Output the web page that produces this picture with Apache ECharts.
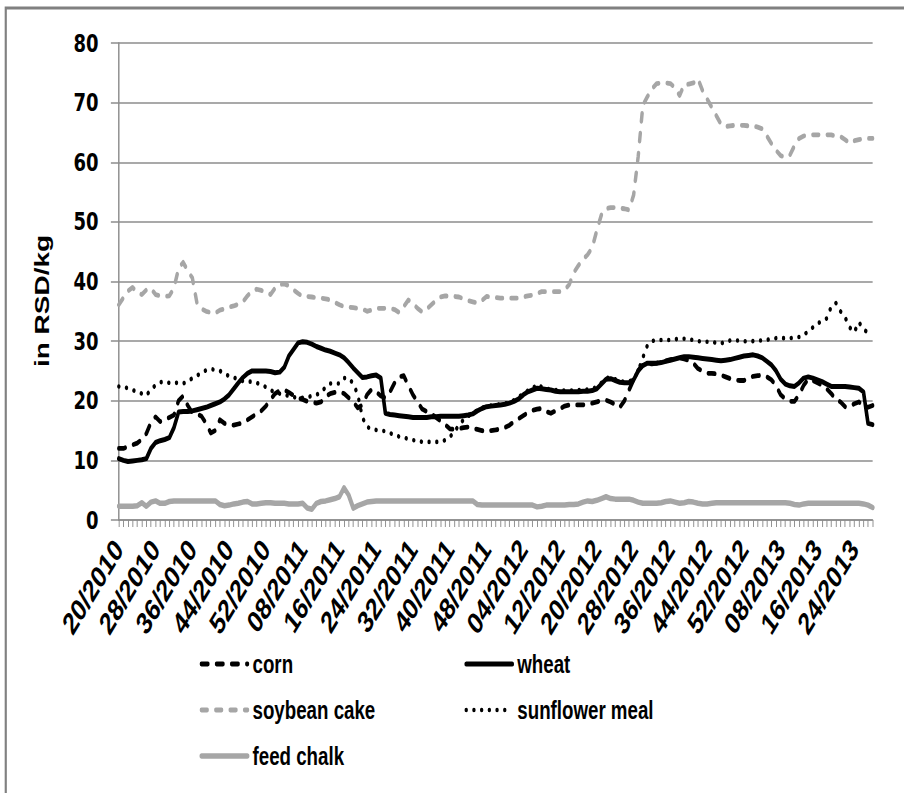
<!DOCTYPE html>
<html>
<head>
<meta charset="utf-8">
<script src="https://cdn.jsdelivr.net/npm/echarts@6/dist/echarts.min.js"></script>
<style>
  html, body { margin: 0; padding: 0; background: #fff; overflow: hidden; }
  #frame { width: 904px; height: 793px; overflow: hidden; position: relative; }
  /* the chart is laid out wide and condensed horizontally, like the printed figure */
  #chart { width: 1256px; height: 793px; transform: scaleX(0.72); transform-origin: 0 0; position: absolute; left: 0; top: 0; }
</style>
</head>
<body>
<div id="frame"><div id="chart"></div></div>
<script>
// Weekly feed component prices, week 20/2010 to week 28/2013 (RSD/kg)
const startWeek = 20, startYear = 2010, endWeek = 28, endYear = 2013;
const weeks = [];
for (let y = startYear, w = startWeek; y < endYear || (y === endYear && w <= endWeek); ) {
  weeks.push((w < 10 ? '0' + w : '' + w) + '/' + y);
  w++;
  if (w > 52) { w = 1; y++; }
}

const seriesNames = ['corn', 'wheat', 'soybean cake', 'sunflower meal', 'feed chalk'];

const corn = [
  12.0, 12.0, 12.3, 12.6, 12.9, 13.5, 14.5, 16.4, 17.3, 16.5,
  16.8, 17.2, 17.6, 20.0, 20.8, 19.2, 18.0, 17.8, 17.4, 16.2,
  14.6, 15.0, 16.8, 16.2, 16.0, 15.9, 16.1, 16.3, 16.8, 17.3,
  17.8, 18.3, 19.1, 20.2, 21.2, 21.7, 21.8, 21.4, 20.9, 20.5,
  20.2, 19.9, 19.8, 19.6, 19.8, 20.7, 21.2, 21.4, 21.5, 21.2,
  20.5, 19.8, 18.8, 19.3, 21.0, 21.9, 21.5, 20.8, 20.5, 21.5,
  23.0, 24.0, 24.2, 22.5, 21.0, 19.8, 18.6, 18.2, 17.8, 17.2,
  16.6, 16.0, 15.3, 15.2, 15.3, 15.5, 15.6, 15.4, 15.2, 15.0,
  14.8, 15.0, 15.1, 15.3, 15.5, 15.9, 16.5, 17.0, 17.5, 18.0,
  18.4, 18.6, 18.7, 18.2, 17.9, 18.3, 18.7, 19.1, 19.3, 19.3,
  19.3, 19.3, 19.4, 19.6, 19.8, 20.1, 20.1, 19.8, 19.4, 18.9,
  20.0, 21.8, 23.5, 25.1, 26.0, 26.2, 26.2, 26.3, 26.5, 26.7,
  26.9, 27.0, 27.2, 27.0, 26.8, 26.3, 25.4, 25.0, 24.6, 24.6,
  24.5, 24.3, 24.0, 23.7, 23.5, 23.4, 23.4, 23.8, 24.1, 24.2,
  24.3, 24.0, 23.5, 22.5, 21.0, 20.3, 19.9, 19.9, 21.0, 22.6,
  23.6, 23.4, 23.0, 22.6, 22.0, 21.2, 20.2, 19.8, 19.0, 19.1,
  19.5, 19.8, 19.2, 18.9, 19.2
];

const wheat = [
  10.3, 10.0, 9.8, 9.9, 10.0, 10.1, 10.3, 12.0, 13.0, 13.3,
  13.5, 13.8, 15.5, 18.1, 18.2, 18.2, 18.3, 18.5, 18.7, 18.9,
  19.2, 19.5, 19.8, 20.3, 21.0, 22.0, 23.0, 23.9, 24.6, 25.0,
  25.0, 25.0, 25.0, 24.9, 24.7, 24.8, 25.6, 27.5, 28.6, 29.7,
  29.9, 29.8, 29.5, 29.1, 28.8, 28.5, 28.3, 28.0, 27.7, 27.2,
  26.4, 25.5, 24.7, 23.9, 24.0, 24.2, 24.3, 23.8, 17.9, 17.7,
  17.6, 17.5, 17.4, 17.3, 17.2, 17.2, 17.2, 17.2, 17.3, 17.3,
  17.4, 17.4, 17.4, 17.4, 17.4, 17.5, 17.6, 17.8, 18.3, 18.7,
  19.0, 19.1, 19.2, 19.3, 19.4, 19.6, 19.9, 20.3, 21.0, 21.5,
  21.8, 22.1, 22.0, 21.9, 21.8, 21.6, 21.5, 21.5, 21.5, 21.5,
  21.5, 21.6, 21.6, 21.7, 22.0, 22.8, 23.6, 23.7, 23.4, 23.1,
  23.0, 23.0, 23.5, 25.0, 25.9, 26.3, 26.3, 26.3, 26.4, 26.6,
  26.8, 27.0, 27.2, 27.4, 27.4, 27.3, 27.2, 27.1, 27.0, 26.9,
  26.8, 26.7, 26.8, 26.9, 27.1, 27.3, 27.5, 27.6, 27.7, 27.5,
  27.2, 26.6, 26.0, 25.0, 23.6, 22.8, 22.5, 22.4, 23.0, 23.8,
  24.0, 23.8, 23.5, 23.2, 22.8, 22.4, 22.4, 22.4, 22.4, 22.3,
  22.2, 22.1, 21.5, 16.2, 16.0
];

const soybeanCake = [
  36.1, 37.3, 38.4, 39.0, 38.2, 37.8, 38.6, 38.8, 37.8, 37.6,
  37.5, 37.6, 38.9, 42.2, 43.2, 41.8, 40.6, 36.4, 35.4, 35.0,
  34.8, 34.7, 35.2, 35.4, 35.7, 35.9, 36.2, 36.6, 37.6, 38.4,
  38.7, 38.5, 38.3, 37.8, 38.9, 39.5, 39.6, 39.3, 38.6, 38.0,
  37.5, 37.5, 37.4, 37.3, 37.2, 37.1, 36.9, 36.5, 36.1, 35.8,
  35.7, 35.6, 35.5, 35.4, 35.0, 35.2, 35.5, 35.5, 35.5, 35.5,
  35.3, 34.8, 35.8, 36.9, 36.3, 35.5, 34.9, 35.4, 36.1, 36.8,
  37.4, 37.6, 37.5, 37.5, 37.4, 37.1, 36.8, 36.6, 36.4, 36.8,
  37.5, 37.4, 37.3, 37.2, 37.2, 37.2, 37.2, 37.2, 37.4, 37.6,
  37.7, 38.0, 38.3, 38.3, 38.3, 38.3, 38.3, 38.6, 39.5, 41.5,
  42.7, 43.7, 44.5, 45.7, 48.6, 51.2, 52.2, 52.4, 52.4, 52.3,
  52.2, 52.0, 54.5, 61.0, 69.5, 71.0, 72.3, 73.2, 73.3, 73.3,
  73.2, 72.5, 71.2, 73.0, 73.1, 73.3, 74.0, 72.0, 70.6, 69.2,
  67.8, 66.4, 66.0, 66.1, 66.2, 66.2, 66.2, 66.1, 66.1, 65.9,
  65.6, 64.4, 63.1, 62.0, 61.1, 60.9, 61.2, 62.8, 64.0, 64.4,
  64.5, 64.6, 64.6, 64.6, 64.6, 64.6, 64.4, 64.3, 63.8, 63.2,
  63.6, 63.8, 63.9, 64.0, 64.0
];

const sunflowerMeal = [
  22.4, 22.3, 22.1, 21.8, 21.5, 21.2, 20.9, 21.9, 22.6, 23.1,
  23.2, 23.0, 23.0, 23.0, 22.9, 23.2, 23.8, 24.2, 24.7, 25.1,
  25.3, 25.2, 25.0, 24.6, 24.1, 23.9, 23.6, 23.3, 23.2, 23.2,
  23.0, 22.7, 22.3, 21.8, 21.4, 21.2, 21.0, 20.8, 20.6, 20.5,
  20.5, 20.6, 20.8, 21.0, 21.4, 22.3, 22.9, 22.9, 22.9, 23.8,
  23.8, 22.9, 21.0, 17.2, 15.6, 15.3, 15.1, 15.0, 14.9, 14.6,
  14.2, 14.0, 13.8, 13.6, 13.4, 13.3, 13.1, 13.1, 13.1, 13.1,
  13.1, 13.4, 13.9, 14.8, 15.9, 16.8, 17.4, 17.9, 18.4, 18.8,
  19.1, 19.2, 19.3, 19.4, 19.5, 19.8, 20.1, 20.6, 21.2, 21.7,
  22.0, 22.8, 22.3, 22.0, 21.9, 21.8, 21.7, 21.7, 21.7, 21.7,
  21.8, 21.8, 21.9, 22.0, 22.3, 23.0, 23.8, 23.9, 23.6, 23.3,
  23.2, 23.2, 23.6, 25.0, 27.2, 29.3, 30.0, 30.2, 30.2, 30.2,
  30.2, 30.3, 30.4, 30.4, 30.3, 30.2, 30.0, 29.9, 29.9, 29.9,
  29.7, 29.6, 29.9, 30.1, 30.1, 30.1, 30.0, 29.9, 30.0, 30.1,
  30.1, 30.2, 30.4, 30.5, 30.5, 30.5, 30.5, 30.6, 30.7, 31.0,
  31.7, 32.3, 33.0, 33.3, 33.8, 35.8, 36.4, 35.0, 34.0, 32.3,
  31.5, 33.2, 32.0, 31.4, 31.2
];

const feedChalk = [
  2.3, 2.3, 2.3, 2.3, 2.4, 2.9, 2.3, 3.0, 3.2, 2.8,
  2.8, 3.1, 3.2, 3.2, 3.2, 3.2, 3.2, 3.2, 3.2, 3.2,
  3.2, 3.2, 2.6, 2.4, 2.5, 2.7, 2.8, 3.0, 3.1, 2.7,
  2.7, 2.8, 2.9, 2.9, 2.8, 2.8, 2.8, 2.7, 2.7, 2.7,
  2.8, 2.0, 1.8, 2.8, 3.1, 3.2, 3.4, 3.6, 3.9, 5.4,
  4.2, 2.0, 2.4, 2.7, 3.0, 3.1, 3.2, 3.2, 3.2, 3.2,
  3.2, 3.2, 3.2, 3.2, 3.2, 3.2, 3.2, 3.2, 3.2, 3.2,
  3.2, 3.2, 3.2, 3.2, 3.2, 3.2, 3.2, 3.2, 2.6, 2.5,
  2.5, 2.5, 2.5, 2.5, 2.5, 2.5, 2.5, 2.5, 2.5, 2.5,
  2.5, 2.2, 2.3, 2.5, 2.5, 2.5, 2.5, 2.5, 2.6, 2.6,
  2.7, 3.0, 3.2, 3.1, 3.3, 3.6, 3.9, 3.6, 3.5, 3.5,
  3.5, 3.5, 3.3, 3.0, 2.8, 2.8, 2.8, 2.8, 2.9, 3.1,
  3.2, 3.0, 2.8, 2.9, 3.1, 3.0, 2.8, 2.7, 2.7, 2.8,
  2.9, 2.9, 2.9, 2.9, 2.9, 2.9, 2.9, 2.9, 2.9, 2.9,
  2.9, 2.9, 2.9, 2.9, 2.9, 2.9, 2.8, 2.6, 2.5, 2.7,
  2.8, 2.8, 2.8, 2.8, 2.8, 2.8, 2.8, 2.8, 2.8, 2.8,
  2.8, 2.8, 2.7, 2.5, 2.1
];

const yTicks = [0, 10, 20, 30, 40, 50, 60, 70, 80];
const yAxisTitle = 'in RSD/kg';

const GRAY = '#a6a6a6';
const AXIS_GRAY = '#8c8c8c';
const SANS = '"Liberation Sans", Arial, sans-serif';
const DIGITS = '"DejaVu Sans", sans-serif';

function lineSeries(name, data, color, width, dash, z) {
  return {
    name: name,
    type: 'line',
    data: data,
    symbol: 'none',
    showSymbol: false,
    animation: false,
    z: z,
    lineStyle: { color: color, width: width, type: dash, cap: 'round', join: 'round' },
    itemStyle: { color: color }
  };
}

const legendCommon = {
  orient: 'vertical',
  top: 646,
  itemWidth: 64,
  itemHeight: 14,
  itemGap: 20,
  selectedMode: false,
  itemStyle: { opacity: 0 },
  lineStyle: { width: 'inherit', type: 'inherit', cap: 'round' },
  textStyle: { color: '#000', fontFamily: SANS, fontWeight: 'bold', fontSize: 26, lineHeight: 25, padding: [0, 0, 0, 2] }
};

const chart = echarts.init(document.getElementById('chart'), null, { renderer: 'svg' });
chart.setOption({
  backgroundColor: '#fff',
  animation: false,
  grid: { left: 165, right: 44, top: 43, bottom: 273, containLabel: false },
  xAxis: {
    type: 'category',
    data: weeks,
    boundaryGap: false,
    axisLine: { lineStyle: { color: AXIS_GRAY, width: 1.5 } },
    axisTick: { show: true, interval: 0, length: 7, lineStyle: { color: AXIS_GRAY, width: 1.3 } },
    axisLabel: {
      interval: 7,
      rotate: 50,
      margin: 24,
      color: '#000',
      fontFamily: SANS,
      fontWeight: 'bold',
      fontSize: 31
    },
    splitLine: { show: false }
  },
  yAxis: {
    type: 'value',
    min: yTicks[0],
    max: yTicks[yTicks.length - 1],
    interval: 10,
    axisLine: { show: true, lineStyle: { color: AXIS_GRAY, width: 2 } },
    axisTick: { show: true, length: 11, lineStyle: { color: AXIS_GRAY, width: 1.5 } },
    axisLabel: {
      margin: 28,
      color: '#000',
      fontFamily: DIGITS,
      fontWeight: 'bold',
      fontSize: 25
    },
    splitLine: { show: true, lineStyle: { color: AXIS_GRAY, width: 1.5 } }
  },
  legend: [
    Object.assign({}, legendCommon, { data: ['corn', 'soybean cake', 'feed chalk'], left: 272 }),
    Object.assign({}, legendCommon, { data: ['wheat', 'sunflower meal'], left: 640 })
  ],
  graphic: [
    {
      type: 'rect',
      silent: true,
      shape: { x: 8, y: 8, width: 1600, height: 1200 },
      style: { fill: null, stroke: '#808080', lineWidth: 3 }
    },
    {
      type: 'text',
      silent: true,
      x: 58,
      y: 301,
      rotation: Math.PI / 2,
      style: {
        text: yAxisTitle,
        fill: '#000',
        font: 'bold 28px ' + SANS,
        align: 'center',
        verticalAlign: 'middle'
      }
    }
  ],
  series: [
    lineSeries(seriesNames[0], corn, '#000', 4.8, [9, 12], 5),
    lineSeries(seriesNames[1], wheat, '#000', 5, 'solid', 6),
    lineSeries(seriesNames[2], soybeanCake, GRAY, 4.8, [8, 12], 3),
    lineSeries(seriesNames[3], sunflowerMeal, '#000', 4.6, [0.1, 10.6], 4),
    lineSeries(seriesNames[4], feedChalk, GRAY, 5.5, 'solid', 2)
  ]
});
</script>
</body>
</html>
